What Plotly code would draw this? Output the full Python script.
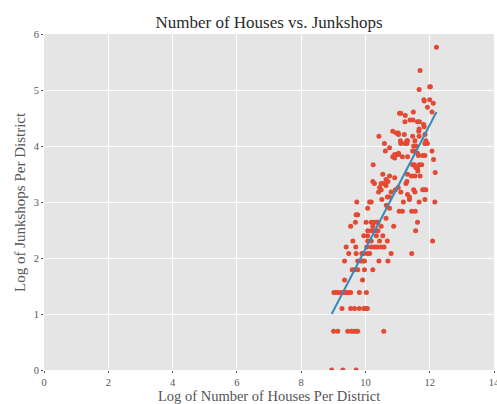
import numpy as np
import plotly.graph_objects as go

# Log of number of houses per district (x) and log of junkshops (y)
houses_log = [
    8.95, 9.30, 9.71,
    9.01, 9.14, 9.45, 9.56, 9.64, 9.71, 9.76, 10.57,
    9.27, 9.54, 9.66, 9.81, 9.95, 10.00, 10.06,
    9.02, 9.09, 9.16, 9.25, 9.32, 9.37, 9.42, 9.47, 9.54, 9.81, 10.03,
    9.35, 9.91,
    9.59, 9.66, 9.76, 9.97, 10.23,
    9.35, 9.76, 9.85, 9.92, 9.97, 10.42, 10.70,
    9.48, 9.71, 9.89, 9.95, 10.06, 10.13, 10.80, 11.44,
    9.40, 9.70, 10.04, 10.18, 10.28, 10.37, 10.49, 10.58,
    9.61, 10.07, 10.18, 10.44, 10.68, 12.09,
    9.95, 10.07, 10.34, 10.54,
    10.07, 10.18, 10.28, 10.39, 11.56,
    9.54, 10.23, 10.49, 10.88,
    9.69, 10.02, 10.18, 10.26, 10.34, 10.39, 11.62,
    10.64,
    9.71, 9.76,
    11.05, 11.15, 11.44, 11.55,
    10.07, 10.75, 10.65,
    9.73, 10.13, 10.18, 11.18, 11.67, 12.16,
    10.51, 11.37, 11.85,
    10.68, 10.75, 11.37,
    11.31,
    10.41, 10.80, 11.10, 11.54,
    10.49, 10.93, 11.50, 11.78, 11.83, 11.88,
    10.44, 11.02,
    10.64,
    10.28, 10.57, 10.49,
    10.23, 10.70, 11.29, 11.26,
    10.64,
    10.91,
    10.75, 11.43, 11.70, 11.54,
    10.54, 11.31,
    12.17,
    11.63,
    11.57, 11.62,
    10.24, 11.67, 11.75, 11.47, 11.52,
    12.12, 10.91,
    10.85, 11.15, 11.31,
    11.65, 11.78, 11.85,
    10.91, 10.99, 11.03, 11.62, 11.03,
    10.62, 11.47, 11.52, 12.07,
    10.75,
    11.50, 11.57,
    10.59, 11.85, 11.93, 11.10, 11.23, 11.29,
    11.09, 11.29, 11.31, 11.54, 11.88,
    10.42, 11.47, 11.67,
    11.21, 11.85, 11.03,
    10.96, 11.02,
    10.85, 11.66,
    11.67,
    11.83,
    11.81,
    11.23, 11.62, 11.68,
    11.39, 11.48,
    11.24,
    11.06, 11.10,
    11.49, 12.07,
    11.93,
    12.11,
    11.83,
    11.82, 12.00,
    11.67,
    12.00, 12.02,
    11.70,
    12.21,
]
junkshops_log = [
    0.0, 0.0, 0.0,
    0.693, 0.693, 0.693, 0.693, 0.693, 0.693, 0.693, 0.693,
    1.099, 1.099, 1.099, 1.099, 1.099, 1.099, 1.099,
    1.386, 1.386, 1.386, 1.386, 1.386, 1.386, 1.386, 1.386, 1.386, 1.386, 1.386,
    1.609, 1.609,
    1.792, 1.792, 1.792, 1.792, 1.792,
    1.946, 1.946, 1.946, 1.946, 1.946, 1.946, 1.946,
    2.079, 2.079, 2.079, 2.079, 2.079, 2.079, 2.079, 2.079,
    2.197, 2.197, 2.197, 2.197, 2.197, 2.197, 2.197, 2.197,
    2.303, 2.303, 2.303, 2.303, 2.303, 2.303,
    2.398, 2.398, 2.398, 2.398,
    2.485, 2.485, 2.485, 2.485, 2.485,
    2.565, 2.565, 2.565, 2.565,
    2.639, 2.639, 2.639, 2.639, 2.639, 2.639, 2.639,
    2.708,
    2.773, 2.773,
    2.833, 2.833, 2.833, 2.833,
    2.890, 2.890, 2.944,
    3.0, 3.0, 3.0, 3.0, 3.0, 3.0,
    3.045, 3.045, 3.045,
    3.091, 3.091, 3.091,
    3.135,
    3.178, 3.178, 3.178, 3.178,
    3.219, 3.219, 3.219, 3.219, 3.219, 3.219,
    3.258, 3.258,
    3.296,
    3.332, 3.332, 3.332,
    3.367, 3.367, 3.367, 3.332,
    3.401,
    3.434,
    3.466, 3.466, 3.466, 3.466,
    3.497, 3.497,
    3.526,
    3.555,
    3.611, 3.611,
    3.664, 3.664, 3.664, 3.664, 3.664,
    3.761, 3.784,
    3.807, 3.807, 3.807,
    3.829, 3.829, 3.829,
    3.850, 3.850, 3.850, 3.871, 3.871,
    3.912, 3.912, 3.912, 3.912,
    3.970,
    4.0, 4.0,
    4.043, 4.043, 4.043, 4.043, 4.043, 4.043,
    4.094, 4.094, 4.094, 4.094, 4.094,
    4.174, 4.174, 4.174,
    4.205, 4.205, 4.205,
    4.234, 4.234,
    4.263, 4.263,
    4.304,
    4.344,
    4.382,
    4.431, 4.431, 4.431,
    4.466, 4.466,
    4.543,
    4.585, 4.585,
    4.605, 4.605,
    4.691,
    4.762,
    4.804,
    4.828, 4.828,
    5.011,
    5.056, 5.056,
    5.347,
    5.762,
]

# Least-squares line drawn over the data's x extent
fit_slope = 1.106
fit_intercept = -8.898

x = np.array(houses_log)
y = np.array(junkshops_log)
line_x = np.array([x.min(), x.max()])
line_y = fit_slope * line_x + fit_intercept

font_family = "Liberation Serif, DejaVu Serif, serif"
grey = "#555555"

W, H = 497, 404
M = dict(l=44, r=3, t=34, b=34)
plot_w = W - M["l"] - M["r"]
plot_h = H - M["t"] - M["b"]

fig = go.Figure()
fig.add_trace(go.Scatter(
    x=x, y=y, mode="markers",
    marker=dict(color="#E24A33", size=5, line=dict(width=0)),
    hoverinfo="skip",
))
fig.add_trace(go.Scatter(
    x=line_x, y=line_y, mode="lines",
    line=dict(color="#348ABD", width=2),
    hoverinfo="skip",
))

axis_common = dict(
    showgrid=True, gridcolor="white", gridwidth=1.3,
    zeroline=False, showline=False, automargin=False,
    ticks="outside", ticklen=2, tickwidth=1, tickcolor=grey,
    ticklabeloverflow="allow",
    tickfont=dict(family=font_family, size=10.5, color=grey),
)

fig.update_layout(
    width=W, height=H,
    margin=M,
    plot_bgcolor="#E5E5E5", paper_bgcolor="white",
    showlegend=False,
    font=dict(family=font_family, color=grey),
    title=dict(
        text="Number of Houses vs. Junkshops",
        font=dict(family=font_family, size=17, color="#2a2a2a"),
        x=0.5, xref="paper", xanchor="center",
        y=1 - 22 / H, yref="container", yanchor="middle",
    ),
    xaxis=dict(range=[0, 14], tickmode="linear", tick0=0, dtick=2, **axis_common),
    yaxis=dict(range=[0, 6], tickmode="linear", tick0=0, dtick=1, **axis_common),
)

# Axis titles placed as annotations relative to the plot area
fig.add_annotation(
    text="Log of Number of Houses Per District",
    xref="paper", yref="paper", x=0.5, y=-(396 - (H - M["b"])) / plot_h,
    xanchor="center", yanchor="middle", showarrow=False,
    font=dict(family=font_family, size=14.5, color=grey),
)
fig.add_annotation(
    text="Log of Junkshops Per District",
    xref="paper", yref="paper", x=-(M["l"] - 20) / plot_w, y=0.5,
    xanchor="center", yanchor="middle", textangle=-90, showarrow=False,
    font=dict(family=font_family, size=15, color=grey),
)

fig.write_html("out.html")
